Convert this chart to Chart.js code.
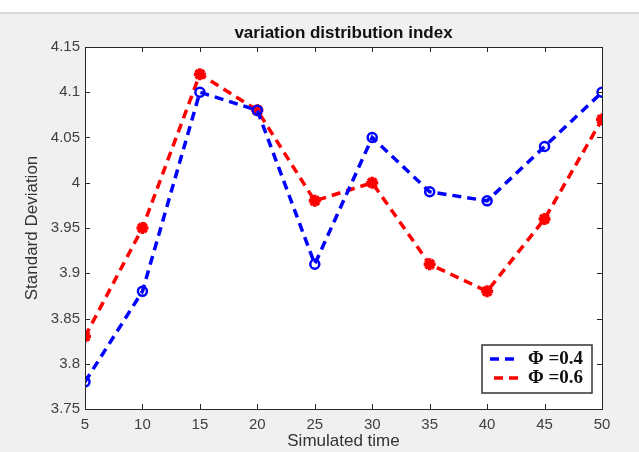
<!DOCTYPE html>
<html><head><meta charset="utf-8">
<script src="https://cdn.jsdelivr.net/npm/chart.js@4"></script>
<style>
html,body{margin:0;padding:0;background:#f0f0f0;}
#wrap{position:relative;width:639px;height:452px;}
#topbar{position:absolute;left:0;top:0;width:639px;height:12px;background:#fff;border-bottom:2px solid #d8d8d8;}
canvas{position:absolute;left:0;top:0;}
</style></head>
<body><div id="wrap"><div id="topbar"></div><canvas id="c" width="639" height="452"></canvas></div>
<script>
const times = [5,10,15,20,25,30,35,40,45,50];
const phi04 = [3.78,3.88,4.10,4.08,3.91,4.05,3.99,3.98,4.04,4.10];
const phi06 = [3.83,3.95,4.12,4.08,3.98,4.00,3.91,3.88,3.96,4.07];
const seriesLabels = ['\u03A6 =0.4','\u03A6 =0.6'];
const titleText = 'variation distribution index';
const xLabel = 'Simulated time';
const yLabel = 'Standard Deviation';
const FONT = 'Arial, "Liberation Sans", sans-serif';

const boxPlugin = {
  id:'boxPlugin',
  beforeDatasetsDraw(chart){
    const {ctx, chartArea:a} = chart;
    ctx.save();
    ctx.fillStyle='#fff';
    ctx.fillRect(a.left,a.top,a.right-a.left,a.bottom-a.top);
    ctx.restore();
  },
  afterDatasetsDraw(chart){
    const {ctx, chartArea:a, scales} = chart;
    ctx.save();
    // title
    ctx.fillStyle='#111';ctx.font='bold 17px '+FONT;ctx.textAlign='center';ctx.textBaseline='middle';
    ctx.fillText(titleText,(a.left+a.right)/2,33);
    ctx.strokeStyle='#262626';ctx.lineWidth=1;
    ctx.strokeRect(a.left+0.5,a.top+0.5,a.right-a.left,a.bottom-a.top);
    ctx.beginPath();
    scales.x.ticks.forEach(t=>{const x=Math.round(scales.x.getPixelForValue(t.value))+0.5;
      ctx.moveTo(x,a.bottom);ctx.lineTo(x,a.bottom-5);ctx.moveTo(x,a.top);ctx.lineTo(x,a.top+5);});
    scales.y.ticks.forEach(t=>{const y=Math.round(scales.y.getPixelForValue(t.value))+0.5;
      ctx.moveTo(a.left,y);ctx.lineTo(a.left+5,y);ctx.moveTo(a.right,y);ctx.lineTo(a.right-5,y);});
    ctx.stroke();
    // legend
    const lx=482, ly=345, lw=110, lh=48;
    ctx.fillStyle='#fff';ctx.fillRect(lx,ly,lw,lh);
    ctx.strokeStyle='#333';ctx.lineWidth=1.5;ctx.strokeRect(lx,ly,lw,lh);
    chart.data.datasets.forEach((ds,i)=>{
      const yy=ly+14+i*19;
      ctx.strokeStyle=ds.borderColor;ctx.lineWidth=3.5;ctx.setLineDash([9,6]);
      ctx.beginPath();ctx.moveTo(lx+8+i*4,yy);ctx.lineTo(lx+38+i*2,yy);ctx.stroke();
      ctx.setLineDash([]);
      ctx.fillStyle='#111';ctx.font='bold 19px "Liberation Serif","Times New Roman",serif';
      ctx.textBaseline='middle';ctx.textAlign='left';
      ctx.fillText(ds.label,lx+46,yy);
    });
    ctx.restore();
  }
};

new Chart(document.getElementById('c'),{
  type:'line',
  data:{datasets:[
    {label:seriesLabels[0],data:times.map((t,i)=>({x:t,y:phi04[i]})),borderColor:'#0000ff',backgroundColor:'#ffffff',
     borderWidth:3.5,borderDash:[9,6],pointStyle:'circle',pointRadius:4.5,pointBorderWidth:2.5,pointBorderColor:'#0000ff',pointBackgroundColor:'rgba(255,255,255,0)',tension:0},
    {label:seriesLabels[1],data:times.map((t,i)=>({x:t,y:phi06[i]})),borderColor:'#ff0000',backgroundColor:'#ff0000',
     borderWidth:3.5,borderDash:[9,6],pointStyle:'star',pointRadius:6,pointBorderWidth:3.5,pointBorderColor:'#ff0000',pointBackgroundColor:'#ff0000',tension:0}
  ]},
  options:{
    responsive:false,animation:false,
    layout:{padding:{left:0,right:37,top:47,bottom:0}},
    plugins:{
      legend:{display:false},tooltip:{enabled:false},title:{display:false}
    },
    scales:{
      x:{type:'linear',min:5,max:50,
        grid:{display:false,drawTicks:false},border:{display:false},
        ticks:{stepSize:5,color:'#404040',padding:7,font:{family:FONT,size:15},maxRotation:0},
        title:{display:true,text:xLabel,color:'#333',font:{family:FONT,size:17},padding:{top:0,bottom:0}},
        afterFit(s){s.height=43;}
      },
      y:{type:'linear',min:3.75,max:4.15,
        grid:{display:false,drawTicks:false},border:{display:false},
        ticks:{stepSize:0.05,color:'#404040',padding:5,font:{family:FONT,size:15},
          callback:v=>String(+(+v).toFixed(2))},
        title:{display:true,text:yLabel,color:'#333',font:{family:FONT,size:17},padding:{top:22,bottom:0}},
        afterFit(s){s.width=85;}
      }
    }
  },
  plugins:[boxPlugin]
});
</script></body></html>
